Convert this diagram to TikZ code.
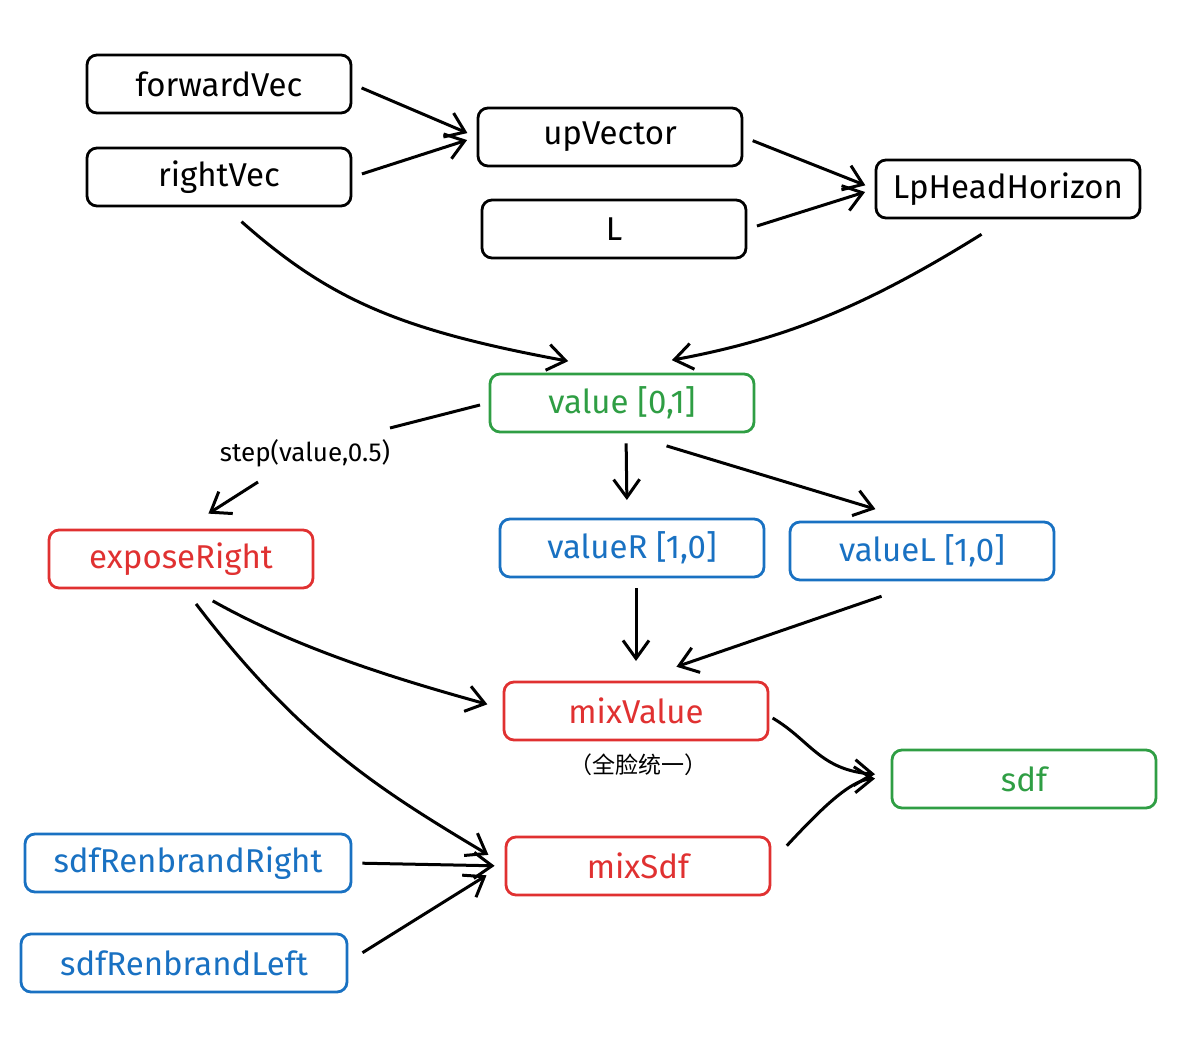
\documentclass[tikz,border=0pt]{standalone}
\usepackage{fontspec}
\setmainfont{Fira Sans}
\newfontfamily\cjk{Noto Sans CJK SC}
\usetikzlibrary{arrows.meta}
\definecolor{cred}{RGB}{224,49,49}
\definecolor{cgreen}{RGB}{47,158,68}
\definecolor{cblue}{RGB}{25,113,194}
\begin{document}
\begin{tikzpicture}[x=0.5pt,y=-0.5pt,
 box/.style={draw,line width=1.4pt,rounded corners=5pt,minimum width=132pt,minimum height=29pt,inner sep=0pt,font=\fontsize{16.5}{18}\selectfont},
 bk/.style={box,draw=black,text=black},
 rd/.style={box,draw=cred,text=cred},
 gn/.style={box,draw=cgreen,text=cgreen},
 bl/.style={box,draw=cblue,text=cblue},
 ar/.style={-{Straight Barb[length=9pt,width=13pt]},line width=1.5pt,shorten <=5pt,shorten >=5pt}]
\useasboundingbox (0,0) rectangle (1192,1053);
\node[bk] (fw) at (219,84) {forwardVec};
\node[bk] (rv) at (219,177) {rightVec};
\node[bk] (up) at (610,137) {upVector};
\node[bk] (L) at (614,229) {L};
\node[bk] (lp) at (1008,189) {LpHeadHorizon};
\node[gn] (val) at (622,403) {value [0,1]};
\node[rd] (ex) at (181,559) {exposeRight};
\node[bl] (vr) at (632,548) {valueR [1,0]};
\node[bl] (vl) at (922,551) {valueL [1,0]};
\node[rd] (mv) at (636,711) {mixValue};
\node[font=\cjk\fontsize{11.5}{13}\selectfont] (note) at (638,765) {（全脸统一）};
\node[gn] (sdf) at (1024,779) {sdf};
\node[rd] (ms) at (638,866) {mixSdf};
\node[bl,minimum width=163pt] (srr) at (188,863) {sdfRenbrandRight};
\node[bl,minimum width=163pt] (srl) at (184,963) {sdfRenbrandLeft};
\node[font=\fontsize{13}{15}\selectfont] (st) at (305,453) {step(value,0.5)};
\draw[ar] (fw.east) -- (up.west);
\draw[ar] (rv.east) -- (up.west);
\draw[ar] (up.east) -- (lp.west);
\draw[ar] (L.east) -- (lp.west);
\draw[ar] (234,215) .. controls (330,300) and (400,330) .. (578,363);
\draw[ar] (990,229) .. controls (860,310) and (780,340) .. (662,362);
\draw[line width=1.5pt] (480,405) -- (390,428);
\draw[ar,shorten <=0pt] (258,482) -- (200,519);
\draw[ar] (val.south) ++(4,0) -- (627,510);
\draw[ar] (657,443) -- (885,512);
\draw[ar] (204,596) .. controls (300,650) and (400,680) .. (497,707);
\draw[ar] (190,596) .. controls (300,740) and (380,790) .. (497,860);
\draw[ar] (636,578) -- (636,671);
\draw[ar] (891,593) -- (667,670);
\draw[ar] (764,713) .. controls (810,740) and (820,770) .. (885,775);
\draw[ar] (780,853) .. controls (820,810) and (850,780) .. (885,778);
\draw[ar] (srr.east) -- (ms.west);
\draw[ar] (354,958) -- (495,870);
\end{tikzpicture}
\end{document}
